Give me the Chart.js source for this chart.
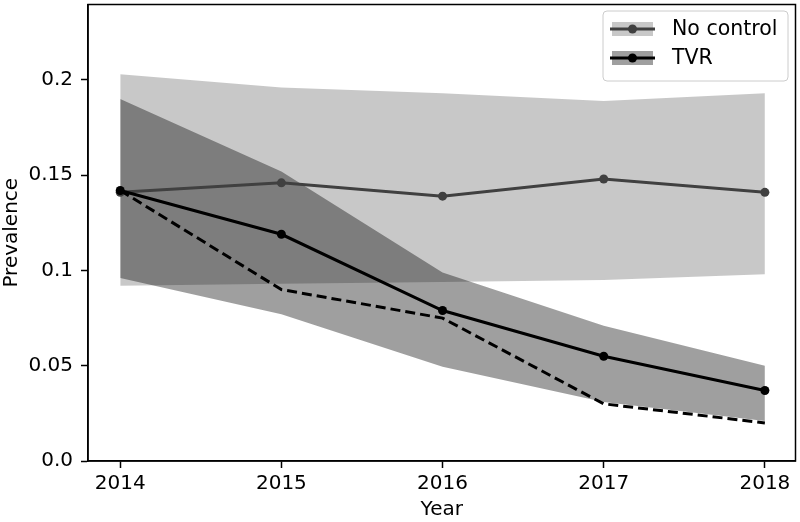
<!DOCTYPE html>
<html>
<head>
<meta charset="utf-8">
<script src="https://cdn.jsdelivr.net/npm/chart.js@4.4.1/dist/chart.umd.min.js"></script>
<style>
  html, body { margin: 0; padding: 0; background: #fff; }
  canvas { display: block; }
</style>
</head>
<body>
<canvas id="prevalence-chart" width="800" height="522"></canvas>
<script>
var years = [2014, 2015, 2016, 2017, 2018];

var noControlMean  = [0.141, 0.146, 0.139, 0.148, 0.141];
var noControlUpper = [0.203, 0.196, 0.193, 0.189, 0.193];
var noControlLower = [0.092, 0.093, 0.094, 0.095, 0.098];

var tvrMean   = [0.142, 0.119, 0.079, 0.055, 0.037];
var tvrDashed = [0.142, 0.090, 0.075, 0.030, 0.020];
var tvrUpper  = [0.190, 0.152, 0.099, 0.071, 0.050];
var tvrLower  = [0.096, 0.077, 0.0495, 0.031, 0.021];

var yTickValues = [0, 0.05, 0.1, 0.15, 0.2];
var yTickLabels = ['0.0', '0.05', '0.1', '0.15', '0.2'];

var legendLabels = ['No control', 'TVR'];

var FONT = 'DejaVu Sans';
var LIGHT_FILL = 'rgba(0,0,0,0.216)';
var DARK_FILL = 'rgba(0,0,0,0.376)';
var NC_LINE = '#404040';

function pts(values) {
  return years.map(function (y, i) { return { x: y, y: values[i] }; });
}

function band(values, fillTarget, color) {
  return {
    data: pts(values),
    borderWidth: 0,
    pointRadius: 0,
    backgroundColor: color,
    fill: fillTarget
  };
}

// axes box on all four sides
var framePlugin = {
  id: 'frame',
  afterDatasetsDraw: function (chart) {
    var a = chart.chartArea, ctx = chart.ctx;
    ctx.save();
    ctx.strokeStyle = '#000';
    ctx.lineWidth = 1.5;
    ctx.strokeRect(a.left, a.top, a.right - a.left, a.bottom - a.top);
    ctx.restore();
  }
};

// matplotlib style legend, line + marker over band patch
var legendPlugin = {
  id: 'mplLegend',
  afterDraw: function (chart) {
    var ctx = chart.ctx;
    var bx = 603, by = 11, bw = 185, bh = 70, r = 4;
    ctx.save();
    ctx.beginPath();
    ctx.moveTo(bx + r, by);
    ctx.arcTo(bx + bw, by, bx + bw, by + bh, r);
    ctx.arcTo(bx + bw, by + bh, bx, by + bh, r);
    ctx.arcTo(bx, by + bh, bx, by, r);
    ctx.arcTo(bx, by, bx + bw, by, r);
    ctx.closePath();
    ctx.fillStyle = 'rgba(255,255,255,0.8)';
    ctx.fill();
    ctx.strokeStyle = '#cccccc';
    ctx.lineWidth = 1;
    ctx.stroke();

    var rows = [
      { y: 29, fill: LIGHT_FILL, line: NC_LINE },
      { y: 58, fill: DARK_FILL, line: '#000' }
    ];
    rows.forEach(function (row, i) {
      ctx.fillStyle = row.fill;
      ctx.fillRect(612, row.y - 7, 41, 14);
      ctx.strokeStyle = row.line;
      ctx.lineWidth = 3;
      ctx.beginPath();
      ctx.moveTo(610, row.y);
      ctx.lineTo(655, row.y);
      ctx.stroke();
      ctx.fillStyle = row.line;
      ctx.beginPath();
      ctx.arc(632.5, row.y, 4.5, 0, Math.PI * 2);
      ctx.fill();
      ctx.fillStyle = '#000';
      ctx.font = '20.5px "' + FONT + '"';
      ctx.textBaseline = 'middle';
      ctx.textAlign = 'left';
      ctx.fillText(legendLabels[i], 672, row.y + 1);
    });
    ctx.restore();
  }
};

var ctx = document.getElementById('prevalence-chart');
new Chart(ctx, {
  type: 'line',
  data: {
    datasets: [
      band(noControlUpper, 1, LIGHT_FILL),
      band(noControlLower, false, LIGHT_FILL),
      band(tvrUpper, 3, DARK_FILL),
      band(tvrLower, false, DARK_FILL),
      {
        label: 'No control',
        data: pts(noControlMean),
        borderColor: NC_LINE,
        backgroundColor: NC_LINE,
        borderWidth: 3,
        pointRadius: 4.5,
        pointBorderWidth: 0,
        fill: false,
        order: -1
      },
      {
        data: pts(tvrDashed),
        borderColor: '#000',
        borderWidth: 3,
        borderDash: [10, 5],
        pointRadius: 0,
        fill: false,
        order: -2
      },
      {
        label: 'TVR',
        data: pts(tvrMean),
        borderColor: '#000',
        backgroundColor: '#000',
        borderWidth: 3,
        pointRadius: 4.5,
        pointBorderWidth: 0,
        fill: false,
        order: -3
      }
    ]
  },
  options: {
    responsive: false,
    devicePixelRatio: 1,
    animation: false,
    layout: { padding: { left: 0, top: 1, right: 2, bottom: 0 } },
    plugins: {
      legend: { display: false },
      tooltip: { enabled: false }
    },
    scales: {
      x: {
        type: 'linear',
        min: 2013.8,
        max: 2018.19,
        afterBuildTicks: function (scale) {
          scale.ticks = years.map(function (v) { return { value: v }; });
        },
        afterFit: function (scale) {
          scale.height = 61;
          scale.paddingLeft = 0;
          scale.paddingRight = 0;
        },
        ticks: {
          color: '#000',
          font: { family: FONT, size: 20 },
          padding: 4,
          maxRotation: 0,
          callback: function (v) { return String(v); }
        },
        grid: { display: true, drawOnChartArea: false, drawTicks: true, tickLength: 7, tickWidth: 1.5, tickColor: '#000' },
        border: { display: true, color: '#000', width: 1.5 },
        title: {
          display: true,
          text: 'Year',
          color: '#000',
          font: { family: FONT, size: 20 },
          padding: { top: 0, bottom: 0 }
        }
      },
      y: {
        min: 0,
        max: 0.2396,
        afterBuildTicks: function (scale) {
          scale.ticks = yTickValues.map(function (v) { return { value: v }; });
        },
        afterFit: function (scale) {
          scale.width = 88;
          scale.paddingTop = 0;
          scale.paddingBottom = 0;
        },
        ticks: {
          color: '#000',
          font: { family: FONT, size: 20 },
          padding: 8,
          callback: function (v) {
            var i = yTickValues.indexOf(v);
            return i >= 0 ? yTickLabels[i] : '';
          }
        },
        grid: { display: true, drawOnChartArea: false, drawTicks: true, tickLength: 7, tickWidth: 1.5, tickColor: '#000' },
        border: { display: true, color: '#000', width: 1.5 },
        title: {
          display: true,
          text: 'Prevalence',
          color: '#000',
          font: { family: FONT, size: 20 },
          padding: { top: 0, bottom: 0 }
        }
      }
    }
  },
  plugins: [framePlugin, legendPlugin]
});
</script>
</body>
</html>
